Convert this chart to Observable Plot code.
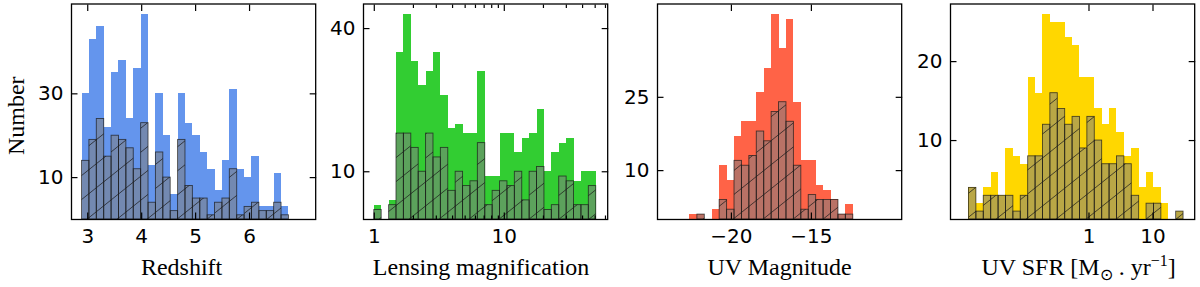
<!DOCTYPE html>
<html><head><meta charset="utf-8">
<script src="https://cdn.jsdelivr.net/npm/d3@7"></script>
<script src="https://cdn.jsdelivr.net/npm/@observablehq/plot@0.6"></script>
<style>
html,body{margin:0;padding:0;background:#fff;}
#chart{position:relative;width:1200px;height:287px;overflow:hidden;}
#chart svg{position:absolute;top:0;}
</style></head><body><div id="chart"></div>
<script>
// ---------- DATA ----------
// Panel 1: Redshift (linear bins)
const zBinStart = 2.894, zBinWidth = 0.137;
const zAll = [30, 43, 46, 22, 35, 38, 24, 36, 49, 13, 30, 20, 6, 30, 23, 20, 16, 12, 7, 14, 31, 12, 10, 15, 3, 3, 11, 3];
const zSub = [14, 19, 24, 15, 20, 19, 17, 12, 23, 4, 16, 10, 2, 19, 8, 5, 5, 1, 4, 5, 12, 1, 3, 4, 2, 2, 4, 1];
const zTicks = [3, 4, 5, 6];
const zYTicks = [10, 30];

// Panel 2: Lensing magnification (log10 bins)
const muLogStart = 0, muLogWidth = 0.0569;
const muAll = [3, 0, 4, 35, 43, 33, 28, 31, 35, 26, 19, 20, 18, 18, 31, 9, 9, 18, 18, 14, 17, 18, 23, 10, 14, 16, 17, 8, 10, 10];
const muSub = [2, 0, 3, 18, 18, 15, 10, 18, 13, 15, 6, 10, 7, 8, 16, 3, 6, 8, 7, 10, 4, 10, 11, 2, 3, 9, 8, 3, 3, 7];
const muTicks = [1, 10];
const muMinorTicks = [2, 3, 4, 5, 6, 7, 8, 9, 20, 30, 40, 50, 60];
const muYTicks = [10, 40];

// Panel 3: UV magnitude (linear bins)
const mBinStart = -22.59, mBinWidth = 0.464;
const mAll = [1, 1, 0, 2, 11, 8, 17, 20, 20, 26, 31, 42, 35, 41, 24, 12, 12, 7, 6, 4, 1, 3];
const mSub = [0, 1, 0, 0, 4, 2, 12, 11, 13, 18, 16, 22, 24, 20, 11, 2, 5, 4, 4, 4, 1, 1];
const mTicks = [-20, -15];
const mYTicks = [10, 25];

// Panel 4: UV SFR (log10 bins)
const sfrLogStart = -1.875, sfrLogWidth = 0.1156;
const sfrAll = [4, 2, 4, 6, 3, 9, 8, 7, 18, 16, 26, 25, 25, 23, 22, 18, 18, 14, 12, 14, 11, 8, 9, 4, 6, 4, 2, 0, 1];
const sfrSub = [4, 1, 3, 3, 3, 3, 1, 3, 8, 8, 12, 16, 14, 12, 13, 9, 13, 10, 7, 7, 8, 7, 3, 0, 2, 2, 0, 0, 1];
const sfrTicks = [1, 10];
const sfrYTicks = [10, 20];

const xLabels = ["Redshift", "Lensing magnification", "UV Magnitude", "UV SFR [M\u2299 . yr\u22121]"];
const yLabel = "Number";

// ---------- LAYOUT ----------
const ML = 70, MR = 14, W = 244.2, H = 287, MT = 3.5, MB = 68;
const tickFont = "DejaVu Sans", labelFont = "Liberation Serif";

function linEdges(start, width, n) { return d3.range(n + 1).map(i => start + i * width); }
function logEdges(start, width, n) { return d3.range(n + 1).map(i => Math.pow(10, start + i * width)); }
const minusFmt = d => d < 0 ? "\u2212" + Math.abs(d) : String(d);

const panels = [
  {id: 1, left: 70.5, color: "cornflowerblue", edges: linEdges(zBinStart, zBinWidth, zAll.length), all: zAll, sub: zSub,
   x: {type: "linear", domain: [2.699, 7.226]}, xTicks: zTicks, xMinor: null, yTicks: zYTicks, label: xLabels[0], labelDx: -12},
  {id: 2, left: 363.2, color: "limegreen", edges: logEdges(muLogStart, muLogWidth, muAll.length), all: muAll, sub: muSub,
   x: {type: "log", domain: [0.826, 62.4]}, xTicks: muTicks, xMinor: muMinorTicks, yTicks: muYTicks, label: xLabels[1], labelDx: -4.5},
  {id: 3, left: 656.8, color: "tomato", edges: linEdges(mBinStart, mBinWidth, mAll.length), all: mAll, sub: mSub,
   x: {type: "linear", domain: [-24.62, -9.356]}, xTicks: mTicks, xMinor: null, yTicks: mYTicks, label: xLabels[2], labelDx: 0},
  {id: 4, left: 949.8, color: "gold", edges: logEdges(sfrLogStart, sfrLogWidth, sfrAll.length), all: sfrAll, sub: sfrSub,
   x: {type: "log", domain: [0.00686, 44.8]}, xTicks: sfrTicks, xMinor: null, yTicks: sfrYTicks, label: xLabels[3], labelDx: 6}
];

const chart = document.getElementById("chart");

for (const p of panels) {
  const bins = p.all.map((v, i) => ({x1: p.edges[i], x2: p.edges[i + 1], all: v, sub: p.sub[i]}));
  const subBins = bins.filter(d => d.sub > 0);
  const allBins = bins.filter(d => d.all > 0);
  const tickStyle = {stroke: "black", strokeWidth: 1.2, fill: "none", label: null};
  const marks = [
    Plot.rectY(allBins, {x1: "x1", x2: "x2", y: "all", fill: p.color, inset: 0, shapeRendering: "crispEdges"}),
    Plot.rectY(subBins, {x1: "x1", x2: "x2", y: "sub", fill: "#808080", fillOpacity: 0.55, inset: 0}),
    Plot.rectY(subBins, {x1: "x1", x2: "x2", y: "sub", fill: `url(#hatch-${p.id})`, inset: 0}),
    Plot.rectY(subBins, {x1: "x1", x2: "x2", y: "sub", fill: "none", stroke: "#1a1a1a", strokeOpacity: 0.75, strokeWidth: 0.9, inset: 0}),
    Plot.frame({stroke: "black", strokeWidth: 1.3}),
    Plot.axisX(p.xTicks, {anchor: "bottom", tickSize: 6.5, dy: -6.5, ...tickStyle}),
    Plot.axisX(p.xTicks, {anchor: "top", tickSize: 6.5, dy: 6.5, ...tickStyle}),
    Plot.axisY(p.yTicks, {anchor: "left", tickSize: 6.5, dx: 6.5, ...tickStyle}),
    Plot.axisY(p.yTicks, {anchor: "right", tickSize: 6.5, dx: -6.5, ...tickStyle}),
    Plot.axisX(p.xTicks, {anchor: "bottom", tickSize: 0, tickPadding: 9, tickFormat: minusFmt, label: null,
      fontFamily: tickFont, fontSize: 20, fill: "black"}),
    Plot.axisY(p.yTicks, {anchor: "left", tickSize: 0, tickPadding: 8, label: null,
      fontFamily: tickFont, fontSize: 20, fill: "black"}),
    Plot.text([p.label], {frameAnchor: "bottom", lineAnchor: "middle", textAnchor: "middle", dy: 47.8, dx: p.labelDx,
      fontFamily: labelFont, fontSize: 24, fill: "black"})
  ];
  if (p.xMinor) {
    marks.push(Plot.axisX(p.xMinor, {anchor: "bottom", tickSize: 3.5, dy: -3.5, ...tickStyle}));
    marks.push(Plot.axisX(p.xMinor, {anchor: "top", tickSize: 3.5, dy: 3.5, ...tickStyle}));
  }
  if (p.id === 1) {
    marks.push(Plot.text([yLabel], {frameAnchor: "left", rotate: -90, textAnchor: "middle", lineAnchor: "middle",
      dx: -55, dy: 4, fontFamily: labelFont, fontSize: 24, fill: "black"}));
  }
  const svg = Plot.plot({
    width: ML + W + MR, height: H,
    marginLeft: ML, marginRight: MR, marginTop: MT, marginBottom: MB,
    x: p.x,
    y: {type: "linear", domain: [0, d3.max(p.all) * 1.05]},
    style: {fontFamily: tickFont, fontSize: "20px", background: "transparent", color: "black", overflow: "visible"},
    marks
  });
  // hatch pattern ("/" hatch)
  const pw = 30, ph = 24;
  const defs = d3.select(svg).insert("defs", ":first-child");
  defs.append("pattern")
    .attr("id", `hatch-${p.id}`).attr("patternUnits", "userSpaceOnUse")
    .attr("width", pw).attr("height", ph)
    .append("path")
    .attr("d", `M${-pw * 0.1},${ph * 1.1}L${pw * 1.1},${-ph * 0.1}M${-pw * 0.1},${ph * 0.1}L${pw * 0.1},${-ph * 0.1}M${pw * 0.9},${ph * 1.1}L${pw * 1.1},${ph * 0.9}`)
    .attr("stroke", "#1a1a1a").attr("stroke-opacity", 0.75).attr("stroke-width", 1).attr("fill", "none");
  svg.style.left = (p.left - ML) + "px";
  // Sub/superscripts in the SFR label
  if (p.id === 4) {
    d3.select(svg).selectAll("text").filter(function () { return this.textContent === p.label; }).each(function () {
      const t = d3.select(this);
      t.text(null);
      t.append("tspan").text("UV SFR [M");
      t.append("tspan").attr("font-size", 16).attr("dy", 5).text("\u2299");
      t.append("tspan").attr("font-size", 24).attr("dy", -5).text(" . yr");
      t.append("tspan").attr("font-size", 16).attr("dy", -9).text("\u22121");
      t.append("tspan").attr("font-size", 24).attr("dy", 9).text("]");
    });
  }
  chart.appendChild(svg);
}
</script>
</body></html>
